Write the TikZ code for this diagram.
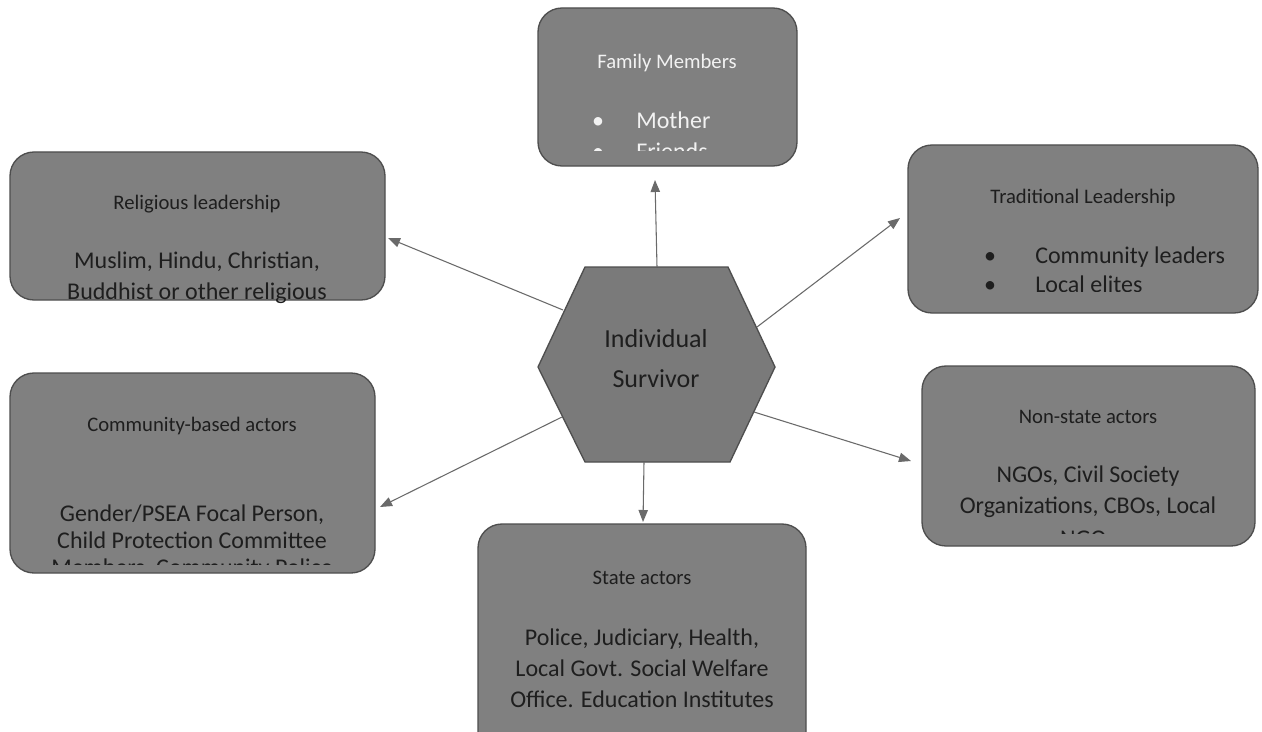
\documentclass[tikz,border=0pt]{standalone}
\usepackage{fontspec}
\setmainfont{Carlito}
\usetikzlibrary{arrows.meta,calc}
\definecolor{boxfill}{HTML}{808080}
\definecolor{boxline}{HTML}{4E4E4E}
\definecolor{hexfill}{HTML}{7A7A7A}
\definecolor{ink}{HTML}{1E1E1E}
\definecolor{whiteink}{HTML}{F2F2F2}
\definecolor{arrowc}{HTML}{6A6A6A}
\begin{document}
\begin{tikzpicture}[x=0.75pt,y=-0.75pt,
  box/.style={draw=boxline, line width=1pt, fill=boxfill, rounded corners=18pt, inner sep=0pt},
  ttl/.style={font=\fontsize{15.5}{18}\selectfont, text=ink, anchor=base},
  bod/.style={font=\fontsize{18}{21}\selectfont, text=ink, anchor=base},
  bodl/.style={bod, anchor=base west, inner sep=0pt},
  hextxt/.style={font=\fontsize{19.5}{24}\selectfont, text=ink, anchor=base},
  arr/.style={draw=arrowc, line width=0.8pt, -{Triangle[length=9pt,width=7pt]}}]
\useasboundingbox[fill=white] (0,0) rectangle (1262,731);

% ---------- boxes ----------
\node[box, minimum width=194.25pt, minimum height=118.5pt] (fam) at (667.5,87) {};
\node[box, minimum width=281.25pt, minimum height=111pt] (rel) at (197.5,226) {};
\node[box, minimum width=262.5pt, minimum height=126pt] (trad) at (1083,229) {};
\node[box, minimum width=273.75pt, minimum height=150pt] (comm) at (192.5,473) {};
\node[box, minimum width=249.75pt, minimum height=135pt] (non) at (1088.5,456) {};
\node[box, minimum width=246pt, minimum height=177pt] (state) at (642,642) {};

% ---------- hexagon ----------
\coordinate (hl) at (538,367);
\coordinate (htl) at (585,267);
\coordinate (htr) at (728,267);
\coordinate (hr) at (775,367);
\coordinate (hbr) at (730,462);
\coordinate (hbl) at (585,462);
\draw[draw=boxline, line width=1pt, fill=hexfill] (hl) -- (htl) -- (htr) -- (hr) -- (hbr) -- (hbl) -- cycle;
\node[hextxt] (survA) at (656,347) {Individual};
\node[hextxt] (survB) at (656,387) {Survivor};

% ---------- texts ----------
\begin{scope}
\clip (538,8) rectangle (797,151);
\node[ttl, text=whiteink] (famT) at (667,69) {Family Members};
\node[bod, text=whiteink] (famB1) at (598,129) {•};
\node[bodl, text=whiteink] (famL1) at (636,129) {Mother};
\node[bod, text=whiteink] (famB2) at (598,160) {•};
\node[bodl, text=whiteink] (famL2) at (636,160) {Friends};
\end{scope}

\node[ttl] (relT) at (197,209) {Religious leadership};
\node[bod] (relL1) at (197,268) {Muslim, Hindu, Christian,};
\node[bod] (relL2) at (197,299) {Buddhist or other religious};

\begin{scope}
\clip (908,145) rectangle (1258,291);
\node[ttl] (tradT) at (1083,203) {Traditional Leadership};
\node[bod] (tradB1) at (990,263) {•};
\node[bodl] (tradL1) at (1035,263) {Community leaders};
\node[bod] (tradB2) at (990,292) {•};
\node[bodl] (tradL2) at (1035,292) {Local elites};
\end{scope}

\begin{scope}
\clip (10,373) rectangle (375,564);
\node[ttl] (commT) at (192,431) {Community-based actors};
\node[bod] (commL1) at (192,521) {Gender/PSEA Focal Person,};
\node[bod] (commL2) at (192,548) {Child Protection Committee};
\node[bod] (commL3) at (192,575) {Members, Community Police};
\end{scope}

\begin{scope}
\clip (922,366) rectangle (1255,533);
\node[ttl] (nonT) at (1088,423) {Non-state actors};
\node[bod] (nonL1) at (1088,482) {NGOs, Civil Society};
\node[bod] (nonL2) at (1088,513) {Organizations, CBOs, Local};
\node[bod] (nonL3) at (1088,546) {NGOs};
\end{scope}

\node[ttl] (stateT) at (642,584) {State actors};
\node[bod] (stateL1) at (642,645) {Police, Judiciary, Health,};
\node[bod] (stateL2) at (642,676) {Local Govt. Social Welfare};
\node[bod] (stateL3) at (642,707) {Office. Education Institutes};

% ---------- connectors ----------
\coordinate (sFam) at (657,267);
\coordinate (eFam) at (655,180);
\coordinate (sRel) at (563,310);
\coordinate (eRel) at (388,238);
\coordinate (sTrad) at (757,327);
\coordinate (eTrad) at (900,218);
\coordinate (sComm) at (562,417);
\coordinate (eComm) at (380,507);
\coordinate (sNon) at (754,412);
\coordinate (eNon) at (911,461);
\coordinate (sState) at (644,462);
\coordinate (eState) at (643,522);
\draw[arr] (sFam) -- (eFam);
\draw[arr] (sRel) -- (eRel);
\draw[arr] (sTrad) -- (eTrad);
\draw[arr] (sComm) -- (eComm);
\draw[arr] (sNon) -- (eNon);
\draw[arr] (sState) -- (eState);
\end{tikzpicture}
\end{document}
